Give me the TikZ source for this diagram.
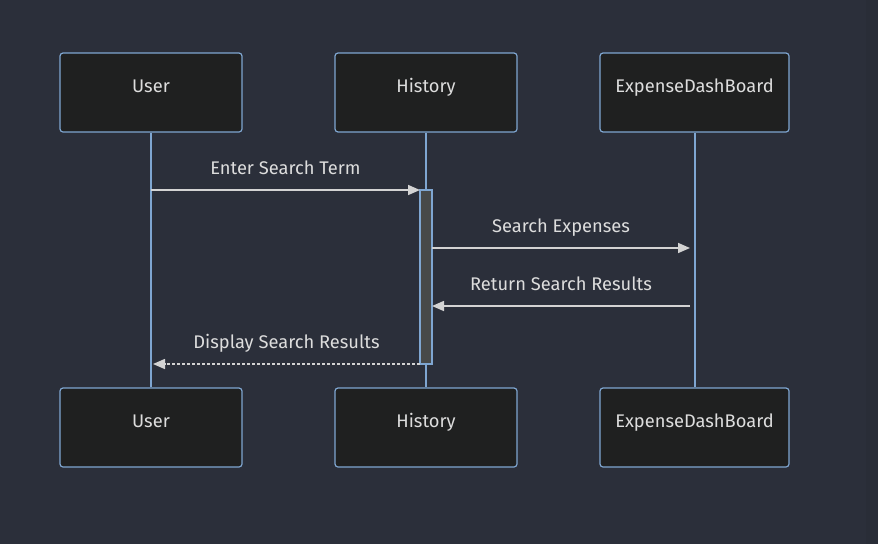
\documentclass[tikz,border=0pt]{standalone}
\usepackage{fontspec}
\setmainfont{Fira Sans}
\usetikzlibrary{arrows.meta}

\definecolor{bgcol}{HTML}{2B2F3A}
\definecolor{stripcol}{HTML}{292D37}
\definecolor{boxfill}{HTML}{1F2020}
\definecolor{boxline}{HTML}{7FA6D1}
\definecolor{txtcol}{HTML}{DDDDDD}
\definecolor{msgcol}{HTML}{D3D3D3}
\definecolor{actfill}{HTML}{474949}

\begin{document}
\begin{tikzpicture}[x=1pt,y=-1pt,
    actor/.style={fill=boxfill,draw=boxline,line width=1.2pt,rounded corners=3pt,
      minimum width=182pt,minimum height=79pt,text=txtcol,text height=6.5pt,text depth=6.5pt,
      font=\fontsize{18.3}{21}\selectfont},
    lifeline/.style={draw=boxline,line width=2pt},
    msg/.style={draw=msgcol,line width=1.6pt,-{Triangle[length=12pt,width=10pt]}},
    reply/.style={msg,dash pattern=on 3pt off 2pt},
    lbl/.style={text=txtcol,font=\fontsize{18.3}{21}\selectfont,anchor=base,yshift=16pt}]
      \fill[bgcol] (0,0) rectangle (878,544);
      \fill[stripcol] (866,0) rectangle (878,544);
      \draw
        (151, 92.5) node[actor] (user){User}
        (426, 92.5) node[actor] (hist){History}
        (694.5, 92.5) node[actor,minimum width=189pt] (dash){ExpenseDashBoard}
        (151, 427.5) node[actor] (userb){User}
        (426, 427.5) node[actor] (histb){History}
        (694.5, 427.5) node[actor,minimum width=189pt] (dashb){ExpenseDashBoard};
      \begin{scope}[lifeline]
        \draw (user) -- (userb);
        \draw (hist) -- (histb);
        \draw (dash) -- (dashb);
      \end{scope}
      \node[fill=actfill,draw=boxline,line width=1.2pt,minimum width=12pt,
        minimum height=174pt,inner sep=0pt] (act) at (426,277) {};
      \coordinate (u1) at (151,190);
      \coordinate (a1) at (420,190);
      \coordinate (a2) at (432,248);
      \coordinate (d2) at (690,248);
      \coordinate (d3) at (690,306);
      \coordinate (a3) at (432,306);
      \coordinate (a4) at (420,364);
      \coordinate (u4) at (153,364);
      \begin{scope}[every node/.style={lbl}]
        \draw[msg] (u1) to node {Enter Search Term} (a1);
        \draw[msg] (a2) to node {Search Expenses} (d2);
        \draw[msg] (d3) to node {Return Search Results} (a3);
        \draw[reply] (a4) to node {Display Search Results} (u4);
      \end{scope}
    \end{tikzpicture}
\end{document}
